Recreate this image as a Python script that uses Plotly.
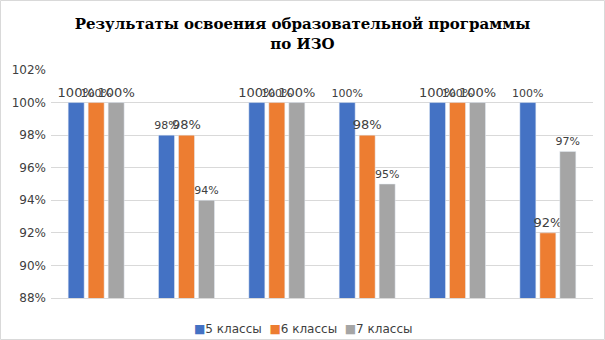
import plotly.graph_objects as go

categories = ["1", "2", "3", "4", "5", "6"]
series_names = ["5 классы", "6 классы", "7 классы"]
values_5 = [1.00, 0.98, 1.00, 1.00, 1.00, 1.00]
values_6 = [1.00, 0.98, 1.00, 0.98, 1.00, 0.92]
values_7 = [1.00, 0.94, 1.00, 0.95, 1.00, 0.97]
label_sizes_5 = [13, 11, 13, 11, 13, 11]
label_sizes_6 = [11, 13, 11, 13, 11, 13]
label_sizes_7 = [13, 11, 13, 11, 13, 11]
colors = ["#4472C4", "#ED7D31", "#A5A5A5"]
y_ticks = [0.88, 0.90, 0.92, 0.94, 0.96, 0.98, 1.00, 1.02]

L, R, T, B = 51, 12, 70, 42
W, H = 605, 340
pw, ph = W - L - R, H - T - B

fig = go.Figure()
for name, vals, sizes, col in zip(series_names,
                                  [values_5, values_6, values_7],
                                  [label_sizes_5, label_sizes_6, label_sizes_7],
                                  colors):
    fig.add_trace(go.Bar(
        x=categories, y=vals, name=name, marker_color=col,
        text=[f"{round(v * 100)}%" for v in vals],
        textposition="outside", constraintext="none",
        textfont=dict(size=sizes, color="#404040", family="DejaVu Sans"),
        cliponaxis=False, showlegend=False,
    ))

# compact legend row under the plot, centred on the whole figure
legend_html = "\u00a0\u00a0".join(
    f"<span style='color:{c}'>■</span>{n}" for n, c in zip(series_names, colors)
)

fig.update_layout(
    width=W, height=H,
    margin=dict(l=L, r=R, t=T, b=B, autoexpand=False),
    paper_bgcolor="white", plot_bgcolor="white",
    title=dict(
        text="<b>Результаты освоения образовательной программы<br>по ИЗО</b>",
        x=0.5, xanchor="center", y=1 - 29 / H, yanchor="top",
        font=dict(family="DejaVu Serif, serif", size=15, color="black"),
    ),
    barmode="group", bargap=0.336, bargroupgap=0.2,
    font=dict(family="DejaVu Sans", color="#404040"),
    annotations=[dict(text=legend_html, xref="paper", yref="paper",
                      x=(W / 2 - L) / pw, xanchor="center", y=-31 / ph,
                      yanchor="middle", showarrow=False,
                      font=dict(family="DejaVu Sans", size=12, color="#404040"))],
    shapes=[dict(type="rect", xref="paper", yref="paper",
                 x0=-(L - 0.5) / pw, x1=1 + (R - 0.5) / pw,
                 y0=-(B - 0.5) / ph, y1=1 + (T - 0.5) / ph,
                 line=dict(color="#d9d9d9", width=1))],
)
fig.update_xaxes(showticklabels=False, showgrid=False, showline=True,
                 linecolor="#d9d9d9", linewidth=1, ticks="", automargin=False)
fig.update_yaxes(range=[0.88, 1.02], tickvals=y_ticks, tickformat=".0%",
                 showgrid=True, gridcolor="#d9d9d9", gridwidth=1,
                 zeroline=False, showline=False, ticks="", automargin=False,
                 tickfont=dict(size=12, color="#404040"), ticklabelstandoff=4)

fig.write_html("out.html")
